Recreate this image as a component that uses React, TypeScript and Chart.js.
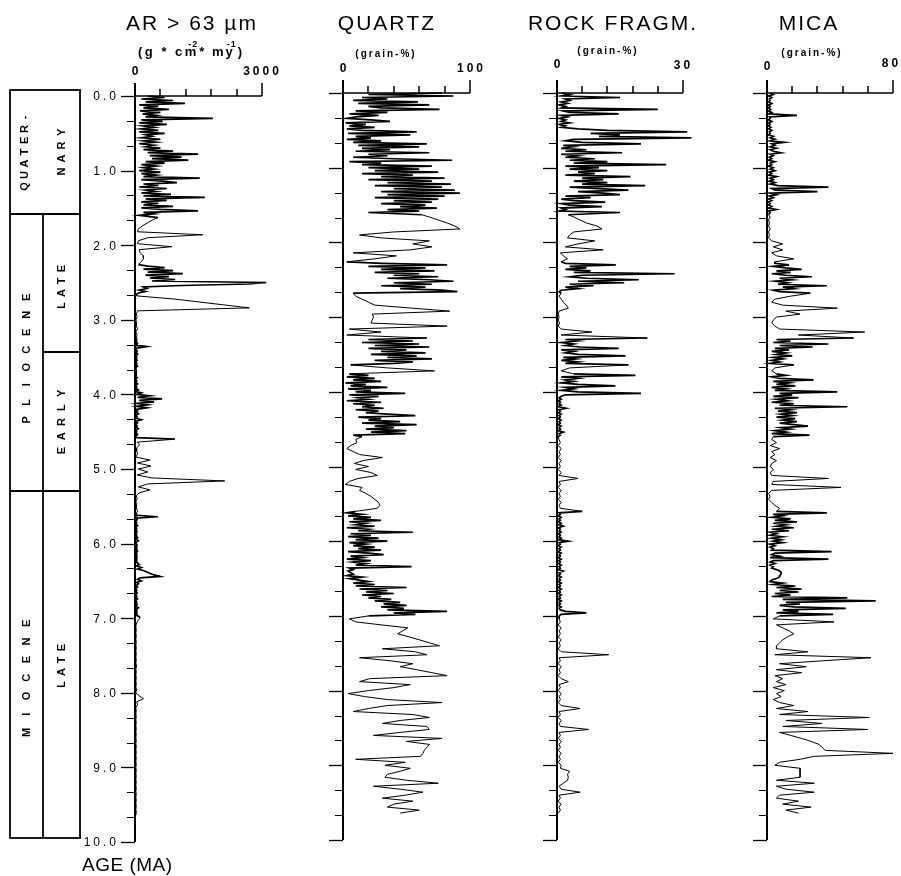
import React, { useEffect, useRef } from 'react';
import { Chart, registerables } from 'chart.js';

Chart.register(...registerables);

// ---------------- data (age in Ma, shared sample ages) ----------------
const AGE: number[] = [
  // 0.00 - 1.60
  0, 0.02, 0.04, 0.06, 0.08, 0.1, 0.12, 0.14, 0.16, 0.18,
  0.2, 0.22, 0.24, 0.26, 0.28, 0.3, 0.32, 0.34, 0.36, 0.38,
  0.4, 0.42, 0.44, 0.46, 0.48, 0.5, 0.52, 0.54, 0.56, 0.58,
  0.6, 0.62, 0.64, 0.66, 0.68, 0.7, 0.72, 0.74, 0.76, 0.78,
  0.8, 0.82, 0.84, 0.86, 0.88, 0.9, 0.92, 0.94, 0.96, 0.98,
  1, 1.02, 1.04, 1.06, 1.08, 1.1, 1.12, 1.14, 1.16, 1.18,
  1.2, 1.22, 1.24, 1.26, 1.28, 1.3, 1.32, 1.34, 1.36, 1.38,
  1.4, 1.42, 1.44, 1.46, 1.48, 1.5, 1.52, 1.54, 1.56, 1.58,
  1.6,
  // 1.63 - 2.26
  1.63, 1.66, 1.7, 1.74, 1.78, 1.82, 1.86, 1.9, 1.94, 1.98, 2.02, 2.06, 2.1, 2.14, 2.18, 2.22, 2.26,
  // 2.28 - 2.68
  2.28, 2.3, 2.32, 2.34, 2.36, 2.38, 2.4, 2.42, 2.44, 2.46, 2.48, 2.5, 2.52, 2.54, 2.56, 2.58, 2.6, 2.62, 2.64, 2.66, 2.68,
  // 2.72 - 3.28
  2.72, 2.76, 2.8, 2.84, 2.88, 2.92, 2.96, 3, 3.04, 3.08, 3.12, 3.16, 3.2, 3.24, 3.28,
  // 3.30 - 3.64
  3.3, 3.32, 3.34, 3.36, 3.38, 3.4, 3.42, 3.44, 3.46, 3.48, 3.5, 3.52, 3.54, 3.56, 3.58, 3.6, 3.62, 3.64,
  3.68, 3.72,
  // 3.76 - 4.60
  3.76, 3.78, 3.8, 3.82, 3.84, 3.86, 3.88, 3.9, 3.92, 3.94,
  3.96, 3.98, 4, 4.02, 4.04, 4.06, 4.08, 4.1, 4.12, 4.14,
  4.16, 4.18, 4.2, 4.22, 4.24, 4.26, 4.28, 4.3, 4.32, 4.34,
  4.36, 4.38, 4.4, 4.42, 4.44, 4.46, 4.48, 4.5, 4.52, 4.54,
  4.56, 4.58, 4.6,
  // 4.64 - 5.60
  4.64, 4.68, 4.72, 4.76, 4.8, 4.84, 4.88, 4.92, 4.96, 5, 5.04, 5.08, 5.12, 5.16, 5.2, 5.24, 5.28, 5.32, 5.36, 5.4, 5.44, 5.48, 5.52, 5.56, 5.6,
  // 5.62 - 7.00
  5.62, 5.64, 5.66, 5.68, 5.7, 5.72, 5.74, 5.76, 5.78, 5.8,
  5.82, 5.84, 5.86, 5.88, 5.9, 5.92, 5.94, 5.96, 5.98, 6,
  6.02, 6.04, 6.06, 6.08, 6.1, 6.12, 6.14, 6.16, 6.18, 6.2,
  6.22, 6.24, 6.26, 6.28, 6.3, 6.32, 6.34, 6.36, 6.38, 6.4,
  6.42, 6.44, 6.46, 6.48, 6.5, 6.52, 6.54, 6.56, 6.58, 6.6,
  6.62, 6.64, 6.66, 6.68, 6.7, 6.72, 6.74, 6.76, 6.78, 6.8,
  6.82, 6.84, 6.86, 6.88, 6.9, 6.92, 6.94, 6.96, 6.98, 7,
  // 7.04 - 9.64
  7.04, 7.08, 7.12, 7.16, 7.2, 7.24, 7.28, 7.32, 7.36, 7.4,
  7.44, 7.48, 7.52, 7.56, 7.6, 7.64, 7.68, 7.72, 7.76, 7.8,
  7.84, 7.88, 7.92, 7.96, 8, 8.04, 8.08, 8.12, 8.16, 8.2,
  8.24, 8.28, 8.32, 8.36, 8.4, 8.44, 8.48, 8.52, 8.56, 8.6,
  8.64, 8.68, 8.72, 8.76, 8.8, 8.84, 8.88, 8.92, 8.96, 9,
  9.04, 9.08, 9.12, 9.16, 9.2, 9.24, 9.28, 9.32, 9.36, 9.4,
  9.44, 9.48, 9.52, 9.56, 9.6, 9.64,
];

// AR > 63 µm (g * cm-2 * my-1)
const AR_63: number[] = [
  300, 700, 150, 900, 250, 1180, 100, 550, 200, 800,
  120, 600, 180, 500, 250, 1840, 150, 650, 100, 750,
  200, 450, 150, 550, 100, 700, 250, 400, 150, 600,
  200, 500, 100, 450, 250, 600, 200, 900, 300, 1490,
  350, 1100, 400, 1260, 250, 700, 150, 500, 200, 450,
  100, 600, 150, 500, 200, 1530, 150, 650, 990, 200,
  550, 100, 750, 250, 500, 150, 850, 200, 1650, 250,
  750, 150, 550, 200, 900, 150, 600, 1490, 200, 450,
  100,
  540, 420, 300, 180, 80, 60, 1600, 300, 80, 60, 870, 100, 120, 190, 200, 150, 80,
  300, 700, 200, 900, 300, 1130, 250, 800, 350, 950, 400, 3100, 2700, 1100, 200, 280, 100, 250, 80, 30, 50,
  900, 1500, 2100, 2700, 60, 30, 50, 20, 40, 30, 60, 20, 50, 30, 40,
  30, 60, 20, 280, 40, 20, 50, 30, 60, 20, 40, 30, 50, 20, 40, 30, 60, 20,
  40, 30,
  30, 50, 20, 40, 30, 60, 20, 40, 30, 80,
  20, 150, 40, 350, 60, 640, 100, 450, 50, 300,
  40, 280, 30, 60, 20, 80, 30, 50, 20, 150,
  30, 60, 20, 50, 30, 80, 20, 40, 30, 60,
  20, 40, 940,
  50, 110, 30, 40, 60, 20, 350, 60, 380, 80, 300, 50, 400, 2120, 300, 80, 350, 100, 30, 50, 20, 40, 30, 60, 30,
  40, 540, 30, 50, 20, 40, 30, 60, 20, 40,
  30, 50, 20, 40, 30, 60, 20, 80, 40, 20,
  50, 30, 40, 20, 60, 30, 40, 20, 50, 30,
  40, 20, 60, 100, 40, 150, 60, 200, 280, 360,
  450, 590, 120, 60, 150, 40, 80, 30, 60, 20,
  40, 30, 50, 20, 40, 30, 60, 20, 40, 30,
  50, 20, 80, 30, 40, 20, 50, 30, 100, 120,
  60, 30, 20, 30, 20, 30, 20, 30, 20, 30,
  20, 30, 20, 30, 20, 40, 20, 30, 20, 30,
  20, 30, 20, 40, 20, 100, 200, 40, 60, 20,
  30, 20, 30, 20, 30, 20, 30, 20, 30, 20,
  30, 20, 30, 20, 30, 20, 30, 20, 30, 20,
  30, 20, 30, 20, 30, 20, 30, 20, 30, 20,
  30, 20, 30, 20, 30, 20,
];

// QUARTZ (grain-%)
const QUARTZ: number[] = [
  78, 20, 87, 15, 35, 8, 59, 12, 68, 20,
  30, 76, 10, 35, 5, 28, 10, 3, 22, 37,
  2, 18, 5, 25, 3, 15, 58, 4, 53, 10,
  22, 3, 30, 8, 66, 12, 60, 15, 37, 10,
  68, 20, 35, 8, 40, 86, 5, 30, 15, 70,
  20, 60, 25, 75, 15, 55, 30, 80, 20, 70,
  35, 85, 25, 78, 40, 88, 30, 92, 35, 80,
  25, 75, 40, 70, 30, 65, 45, 74, 35, 60,
  20,
  62, 68, 75, 82, 88, 92, 40, 13, 30, 68, 55, 70, 53, 8, 42, 25, 3,
  31, 82, 20, 65, 30, 72, 25, 60, 40, 75, 35, 68, 87, 40, 70, 30, 65, 45, 78, 90, 8,
  10, 15, 20, 25, 54, 84, 23, 24, 23, 22, 82, 5, 30, 3, 66,
  20, 55, 15, 60, 25, 68, 20, 50, 30, 65, 22, 58, 35, 70, 25, 55, 40, 6,
  35, 72,
  5, 20, 3, 25, 8, 30, 2, 18, 6, 35,
  4, 22, 10, 49, 5, 28, 12, 20, 3, 30,
  8, 25, 15, 32, 10, 28, 18, 35, 57, 12,
  30, 20, 45, 15, 58, 25, 40, 18, 50, 22,
  49, 8, 15,
  10, 11, 6, 3, 8, 13, 31, 16, 9, 20, 10, 22, 27, 12, 5, 2, 15, 13, 18, 22, 25, 28, 29, 27, 10,
  3, 15, 4, 22, 8, 30, 5, 18, 10, 25,
  3, 20, 12, 55, 6, 22, 4, 28, 10, 35,
  5, 18, 8, 25, 12, 30, 4, 20, 32, 6,
  15, 3, 22, 8, 18, 10, 54, 5, 8, 4,
  6, 8, 3, 15, 5, 13, 20, 8, 25, 10,
  50, 13, 35, 18, 40, 15, 30, 20, 38, 25,
  45, 32, 50, 30, 48, 35, 82, 40, 57, 20,
  5, 10, 30, 51, 47, 43, 52, 60, 68, 76,
  31, 57, 66, 13, 37, 55, 45, 58, 70, 82,
  21, 13, 53, 40, 20, 4, 17, 35, 78, 35,
  20, 8, 55, 68, 45, 31, 66, 68, 45, 24,
  78, 50, 68, 66, 64, 63, 61, 10, 49, 33,
  53, 45, 35, 33, 50, 75, 24, 45, 63, 49,
  31, 55, 40, 35, 60, 45,
];

// ROCK FRAGM. (grain-%)
const ROCK_FRAGM: number[] = [
  1, 3, 1, 15, 2, 3, 1, 2.5, 0.5, 2,
  1, 24, 1.5, 3, 14.7, 1, 2.5, 0.5, 2, 1,
  3, 0.5, 2, 1, 5, 12, 31, 8, 15, 10,
  32, 4, 2, 6, 20, 1.5, 4, 1, 7, 2,
  15.5, 1, 5, 2, 9, 3, 12, 4, 26, 2,
  10, 3, 12, 5, 9, 2, 17.5, 6, 11, 4,
  12, 6, 21, 3, 10, 17, 5, 11, 15, 2,
  8, 1, 4, 11.5, 1, 3, 10.7, 1, 2, 0.5,
  15,
  2.7, 4, 5.5, 7, 9.5, 10.7, 4, 3, 2.5, 9, 5, 2, 11, 0.8, 1.5, 2.5, 1,
  2, 14, 3, 7, 2, 8, 4, 28, 6, 3, 7, 19.5, 5, 16, 3, 8.7, 2, 5, 1, 0.5, 1,
  0.5, 1, 1.5, 2.2, 2.7, 0.5, 0.3, 0.5, 0.3, 0.6, 0.3, 1, 8.3, 1, 21.5,
  2, 5, 1, 4, 2, 5.5, 14.7, 1, 4, 2, 5, 16.3, 1.5, 4.5, 1, 5, 2, 17,
  3, 1,
  4, 18.7, 1, 5, 2, 4, 1, 5, 13.9, 2,
  4, 1, 5, 20, 2, 1, 0.5, 1, 0.3, 0.8,
  0.5, 1, 0.3, 2.2, 0.5, 0.8, 0.3, 1, 0.5, 0.8,
  0.3, 1, 0.5, 0.8, 0.3, 1, 0.5, 0.8, 0.3, 1.5,
  0.5, 0.8, 0.3,
  0.5, 0.8, 0.3, 1, 0.5, 0.8, 0.3, 1, 0.5, 0.8, 0.3, 1, 0.5, 5, 0.5, 0.8, 0.3, 1, 0.5, 0.8, 0.3, 1, 0.5, 0.8, 6,
  0.5, 0.8, 0.3, 1, 0.5, 0.8, 0.3, 1, 0.5, 1.5,
  0.3, 0.8, 0.5, 1, 0.3, 0.8, 0.5, 1, 0.3, 2.7,
  0.5, 0.8, 0.3, 1, 0.5, 0.8, 0.3, 1, 0.5, 0.8,
  0.3, 1, 0.5, 0.8, 0.3, 1, 0.5, 0.8, 0.3, 1.5,
  0.5, 0.8, 0.3, 1, 0.5, 0.8, 0.3, 1, 0.5, 0.8,
  0.3, 1, 0.5, 0.8, 0.3, 1, 0.5, 0.8, 0.3, 1,
  0.5, 0.8, 0.3, 1, 0.5, 0.8, 2, 7, 1, 0.5,
  0.5, 0.8, 0.3, 1, 0.5, 0.8, 0.3, 1, 0.5, 0.8,
  0.3, 1, 12.3, 0.5, 0.8, 0.3, 1, 0.5, 0.8, 0.3,
  1, 2.7, 0.5, 0.8, 0.3, 1, 0.5, 0.8, 0.3, 1,
  5.5, 0.5, 0.8, 0.3, 1, 0.5, 0.8, 7.5, 0.5, 0.8,
  0.3, 1, 0.5, 0.8, 0.3, 1, 0.5, 0.8, 0.3, 1,
  0.8, 3, 2.5, 2.7, 2.5, 1.5, 0.5, 1, 5.5, 0.5,
  0.8, 0.3, 1, 0.5, 0.8, 0.3,
];

// MICA (grain-%)
const MICA: number[] = [
  2, 4, 1, 3, 1.5, 2, 1, 3, 1, 2,
  1, 2.5, 1, 3, 1, 19, 1.5, 2, 1, 3,
  1, 2, 1, 2.5, 1, 3, 1.5, 2, 1, 4,
  2, 5, 2, 11, 3, 5, 2, 6, 2, 4,
  9, 2, 4, 1.5, 3, 1, 5, 2, 3, 1,
  4, 2, 5, 1.5, 3, 1, 6, 2, 4, 1.5,
  5, 2, 7, 39, 3, 5, 32, 2, 6, 1.5,
  4, 1, 3, 1, 2, 1, 3, 1, 6, 1,
  2,
  1, 2, 1, 1.5, 1, 2, 1, 1.5, 1, 3, 10, 4, 10, 3, 6, 17, 5,
  5, 14, 4, 12, 22, 6, 15, 3, 12, 28.5, 8, 16, 5, 13, 7, 38, 10, 17, 4, 8, 27.5,
  15, 5, 3, 10, 44.6, 12, 21, 6, 4, 3, 5, 8, 62, 20, 55,
  6, 15, 4, 39, 8, 29, 5, 14, 3, 12, 6, 16, 4, 10, 3, 8, 2, 17,
  5, 3,
  6, 12, 3, 8, 29.6, 4, 14, 6, 18, 3,
  12, 5, 44.6, 8, 16, 4, 20, 6, 13, 3,
  17, 8, 51, 5, 15, 7, 19, 9, 16, 6,
  18, 10, 19, 8, 17, 26, 9, 15, 5, 12,
  3, 27, 4,
  3, 6, 2, 8, 3, 5, 2, 6, 3, 2, 4, 2, 3, 39, 4, 3, 47, 3, 1, 2, 1, 3, 5, 8, 6,
  38, 4, 10, 3, 15, 5, 19, 4, 12, 6,
  17, 3, 14, 2, 6, 2, 10, 3, 9, 4,
  10, 2, 5, 2, 4, 3, 41, 5, 3, 8,
  2, 39, 4, 2, 5, 2, 4, 3, 6, 8,
  9, 9, 8, 8, 6, 3, 2, 10, 4, 18,
  6, 22, 8, 20, 5, 15, 3, 51, 10, 69,
  12, 21, 8, 17, 50, 10, 20, 6, 42, 8,
  4, 42.5, 6, 10, 14, 17, 13, 10, 8, 6,
  6, 26, 5, 66, 36, 8, 25, 6, 22, 5,
  10, 6, 12, 4, 11, 6, 9, 4, 8, 17,
  6, 26, 8, 65, 12, 35, 10, 64, 8, 15,
  22, 28, 33, 35, 37, 80, 30, 21, 8, 5,
  21, 21, 21, 21, 6, 30, 6, 12, 30, 8,
  6, 20, 10, 28, 12, 20,
];

const SERIES = [AR_63, QUARTZ, ROCK_FRAGM, MICA];
const TITLES = ['AR > 63 µm', 'QUARTZ', 'ROCK FRAGM.', 'MICA'];
const UNIT_LABEL = '(grain-%)';
const X_MAX = [3000, 100, 30, 80];
const X_END_LABELS = ['3000', '100', '30', '80'];
const AGE_LABELS = ['0.0', '1.0', '2.0', '3.0', '4.0', '5.0', '6.0', '7.0', '8.0', '9.0', '10.0'];
const AGE_MIN = 0;
const AGE_MAX = 10;
const MINOR_PER_MA = 3;

// stratigraphic column (ages in Ma)
const EPOCH_BOUNDS = [-0.08, 1.58, 5.3, 9.95];
const PLIOCENE_LATE_EARLY = 3.43;

const FONT = '"Liberation Sans", Arial, Helvetica, sans-serif';

type Lay = {
  left: number; width: number; areaL: number; areaR: number; top: number; bottom: number;
  titleX: number; unitX: number; unitY: number; zeroY: number; endY: number; endX: number;
};

const LAYOUTS: Lay[] = [
  { left: 0, width: 300, areaL: 135, areaR: 262, top: 96, bottom: 842, titleX: 191, unitX: 190, unitY: 56, zeroY: 72, endY: 72, endX: 261 },
  { left: 300, width: 210, areaL: 343, areaR: 470, top: 93, bottom: 840, titleX: 386, unitX: 385, unitY: 54, zeroY: 69, endY: 69, endX: 470 },
  { left: 510, width: 210, areaL: 557, areaR: 683, top: 93, bottom: 840, titleX: 612, unitX: 607, unitY: 51, zeroY: 65, endY: 66, endX: 682 },
  { left: 720, width: 181, areaL: 767, areaR: 893, top: 93, bottom: 840, titleX: 808, unitX: 811, unitY: 53, zeroY: 67, endY: 64, endX: 890 },
];

function drawSpaced(ctx: CanvasRenderingContext2D, text: string, x: number, y: number, spacing: number, align: 'left' | 'center' | 'right'): number {
  const chars = Array.from(text);
  const widths = chars.map((c) => ctx.measureText(c).width);
  const total = widths.reduce((a, b) => a + b, 0) + spacing * (chars.length - 1);
  let sx = align === 'center' ? x - total / 2 : align === 'right' ? x - total : x;
  const prevAlign = ctx.textAlign;
  ctx.textAlign = 'left';
  chars.forEach((c, i) => {
    ctx.fillText(c, sx, y);
    sx += widths[i] + (i < chars.length - 1 ? spacing : 0);
  });
  ctx.textAlign = prevAlign;
  return sx;
}

function drawVertical(ctx: CanvasRenderingContext2D, text: string, cx: number, cy: number, advance: number) {
  const chars = Array.from(text);
  ctx.save();
  ctx.translate(cx, cy);
  ctx.rotate(-Math.PI / 2);
  ctx.textAlign = 'center';
  ctx.textBaseline = 'middle';
  chars.forEach((c, i) => {
    const off = (i - (chars.length - 1) / 2) * advance;
    ctx.fillText(c, off, 0);
  });
  ctx.restore();
}

function line(ctx: CanvasRenderingContext2D, x1: number, y1: number, x2: number, y2: number) {
  ctx.beginPath();
  ctx.moveTo(x1, y1);
  ctx.lineTo(x2, y2);
  ctx.stroke();
}

function makePlugin(idx: number) {
  const L = LAYOUTS[idx];
  return {
    id: 'panelDecor' + idx,
    afterDraw(chart: any) {
      const ctx: CanvasRenderingContext2D = chart.ctx;
      const xs = chart.scales.x;
      const ys = chart.scales.y;
      const ox = L.left;
      const max = X_MAX[idx];
      const x0 = Math.round(xs.getPixelForValue(0));
      const x1 = Math.round(xs.getPixelForValue(max));
      const yTop = Math.round(ys.getPixelForValue(AGE_MIN));
      const yBot = Math.round(ys.getPixelForValue(AGE_MAX));
      ctx.save();
      ctx.fillStyle = '#000';
      ctx.strokeStyle = '#000';
      ctx.lineCap = 'butt';

      // vertical axis
      ctx.lineWidth = 2;
      line(ctx, x0, yTop - 13, x0, yBot);
      // top axis
      ctx.lineWidth = 1.5;
      line(ctx, x0, yTop, x1, yTop);
      for (let i = 1; i <= 5; i++) {
        const px = Math.round(xs.getPixelForValue((max * i) / 5));
        const len = i === 5 ? 13 : 7;
        line(ctx, px, yTop, px, yTop - len);
      }
      // age ticks
      const nTicks = (AGE_MAX - AGE_MIN) * MINOR_PER_MA;
      for (let k = 0; k <= nTicks; k++) {
        const v = AGE_MIN + k / MINOR_PER_MA;
        const py = Math.round(ys.getPixelForValue(v)) + 0.5;
        const major = k % MINOR_PER_MA === 0;
        ctx.lineWidth = major ? 1.3 : 1;
        line(ctx, x0 - (major ? 14 : 8), py, x0, py);
      }

      // tick labels on value axis
      ctx.textBaseline = 'middle';
      ctx.font = `bold 12px ${FONT}`;
      drawSpaced(ctx, '0', x0, L.zeroY, 0, 'center');
      drawSpaced(ctx, X_END_LABELS[idx], L.endX - ox, L.endY, 3, 'center');

      // title
      ctx.textBaseline = 'alphabetic';
      ctx.font = `21px ${FONT}`;
      drawSpaced(ctx, TITLES[idx], L.titleX - ox, 30, 2, 'center');

      // units
      if (idx === 0) {
        ctx.textBaseline = 'alphabetic';
        const by = L.unitY;
        ctx.font = `bold 13px ${FONT}`;
        let x = drawSpaced(ctx, '(g * cm', 138 - ox, by, 2.5, 'left');
        ctx.font = `bold 9px ${FONT}`;
        drawSpaced(ctx, '-2', x - 8, by - 9, 1, 'left');
        ctx.font = `bold 13px ${FONT}`;
        x = drawSpaced(ctx, '* my', x + 3, by, 2, 'left');
        ctx.font = `bold 9px ${FONT}`;
        drawSpaced(ctx, '-1', x - 6, by - 9, 1, 'left');
        ctx.font = `bold 13px ${FONT}`;
        drawSpaced(ctx, ')', x + 5, by, 0, 'left');
      } else {
        ctx.textBaseline = 'middle';
        ctx.font = `bold 10px ${FONT}`;
        drawSpaced(ctx, UNIT_LABEL, L.unitX - ox, L.unitY, 2, 'center');
      }

      if (idx === 0) {
        // age labels
        ctx.textBaseline = 'middle';
        ctx.font = `12px ${FONT}`;
        AGE_LABELS.forEach((lab, i) => {
          const py = ys.getPixelForValue(AGE_MIN + i);
          drawSpaced(ctx, lab, 116, py + 1, 3, 'right');
        });
        // axis title
        ctx.textBaseline = 'alphabetic';
        ctx.font = `19px ${FONT}`;
        drawSpaced(ctx, 'AGE (MA)', 82, 871, 0.5, 'left');

        // stratigraphic column
        const cl = 10, cm = 43, cr = 80;
        const yb = EPOCH_BOUNDS.map((a) => Math.round(ys.getPixelForValue(a)));
        const yLE = Math.round(ys.getPixelForValue(PLIOCENE_LATE_EARLY));
        ctx.lineWidth = 1.8;
        ctx.strokeRect(cl, yb[0], cr - cl, yb[3] - yb[0]);
        line(ctx, cl, yb[1], cr, yb[1]);
        line(ctx, cl, yb[2], cr, yb[2]);
        line(ctx, cm, yb[1], cm, yb[3]);
        line(ctx, cm, yLE, cr, yLE);

        ctx.font = `bold 11px ${FONT}`;
        const yc = (a: number) => ys.getPixelForValue(a);
        drawVertical(ctx, 'QUATER-', 25, yc(0.75), 11.5);
        drawVertical(ctx, 'NARY', 62, yc(0.75), 13);
        drawVertical(ctx, 'PLIOCENE', 27, yc(3.52), 17.5);
        drawVertical(ctx, 'LATE', 62, yc(2.56), 12.3);
        drawVertical(ctx, 'EARLY', 62, yc(4.37), 14.3);
        drawVertical(ctx, 'MIOCENE', 27, yc(7.8), 18.2);
        drawVertical(ctx, 'LATE', 62, yc(7.64), 12.3);
      }
      ctx.restore();
    },
  };
}

function Panel({ idx }: { idx: number }) {
  const ref = useRef<HTMLCanvasElement | null>(null);
  const L = LAYOUTS[idx];
  useEffect(() => {
    const canvas = ref.current;
    if (!canvas) return;
    const vals = SERIES[idx];
    const n = Math.min(AGE.length, vals.length);
    const pts: { x: number; y: number }[] = [];
    for (let i = 0; i < n; i++) pts.push({ x: vals[i], y: AGE[i] });
    const chart = new Chart(canvas, {
      type: 'scatter',
      data: {
        datasets: [
          {
            data: pts,
            showLine: true,
            borderColor: '#000',
            backgroundColor: '#000',
            borderWidth: 1,
            pointRadius: 0,
            pointHoverRadius: 0,
            tension: 0,
            clip: false as any,
            segment: {
              // closely spaced samples are drawn a little heavier so dense intervals read as solid black
              borderWidth: (c: any) => (Math.abs(c.p1.parsed.y - c.p0.parsed.y) < 0.03 ? 1.7 : 1),
            },
          } as any,
        ],
      },
      options: {
        animation: false,
        responsive: false,
        devicePixelRatio: 1,
        events: [],
        layout: {
          padding: {
            left: L.areaL - L.left,
            right: L.left + L.width - L.areaR,
            top: L.top,
            bottom: 876 - L.bottom,
          },
        },
        scales: {
          x: { type: 'linear', min: 0, max: X_MAX[idx], display: false },
          y: { type: 'linear', min: AGE_MIN, max: AGE_MAX, reverse: true, display: false },
        },
        plugins: {
          legend: { display: false },
          tooltip: { enabled: false },
          title: { display: false },
        },
      },
      plugins: [makePlugin(idx)],
    });
    return () => chart.destroy();
  }, [idx]);
  return (
    <canvas
      ref={ref}
      width={L.width}
      height={876}
      style={{ position: 'absolute', left: L.left, top: 0, width: L.width, height: 876 }}
    />
  );
}

export default function App() {
  return (
    <div style={{ position: 'absolute', left: 0, top: 0, width: 901, height: 876, background: '#fff', overflow: 'hidden' }}>
      {[0, 1, 2, 3].map((i) => (
        <Panel key={i} idx={i} />
      ))}
    </div>
  );
}
